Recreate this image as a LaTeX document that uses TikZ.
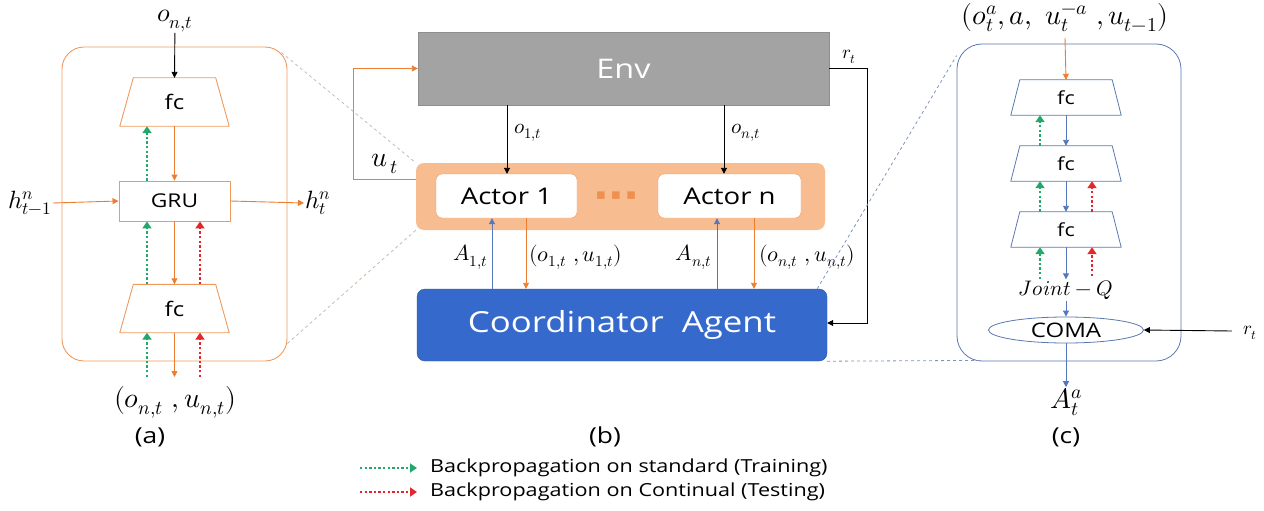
\documentclass[tikz,border=0pt]{standalone}
\usepackage{fontspec}
\usepackage{unicode-math}
\setmathfont{Latin Modern Math}
\newfontfamily\osans[FakeStretch=1.2]{Open Sans}
\newfontfamily\dvs{DejaVu Sans}
\usetikzlibrary{arrows.meta,shapes.geometric,calc}
\definecolor{orA}{HTML}{ED7D31}
\definecolor{orL}{HTML}{EE9A5E}
\definecolor{orD}{HTML}{EE9050}
\definecolor{barF}{HTML}{F7BC8F}
\definecolor{envF}{HTML}{A3A3A3}
\definecolor{envD}{HTML}{8E8E8E}
\definecolor{coordF}{HTML}{3569CC}
\definecolor{blA}{HTML}{5577BB}
\definecolor{blF}{HTML}{5B78B0}
\definecolor{gcol}{HTML}{22A86A}
\definecolor{rcol}{HTML}{E3262D}
\definecolor{dashA}{HTML}{C9BBAE}
\definecolor{dashC}{HTML}{7F93BC}
\newcommand{\fsz}[1]{\fontsize{#1}{#1}\selectfont}
% trapezoid outline around a node: narrow top, wide bottom
\newcommand{\trapz}[3]{\draw[#3] (#1.south west) -- (#1.south east) -- ([xshift=-#2]#1.north east) -- ([xshift=#2]#1.north west) -- cycle;}
\begin{document}
\begin{tikzpicture}[x=1pt,y=-1pt,
  tip/.style={-{Triangle[length=6pt,width=6pt]}},
  oarr/.style={draw=orA, line width=0.9pt, tip},
  barr/.style={draw=blA, line width=0.9pt, tip},
  karr/.style={draw=black, line width=0.9pt, tip},
  gdot/.style={draw=gcol, line width=2.6pt, dash pattern=on 2.4pt off 2.2pt, -{Triangle[length=7pt,width=9pt]}},
  rdot/.style={draw=rcol, line width=2.6pt, dash pattern=on 2.4pt off 2.2pt, -{Triangle[length=7pt,width=9pt]}},
  fcA/.style={minimum width=109pt, minimum height=48pt, inner sep=0pt, font=\osans\fsz{20}},
  fcC/.style={minimum width=110pt, minimum height=35pt, inner sep=0pt, font=\osans\fsz{18}},
  trA/.style={draw=orL, line width=0.9pt, line join=round},
  trC/.style={draw=blF, line width=0.8pt, line join=round},
  ml/.style={inner sep=1pt},
  captxt/.style={font=\osans\fsz{22}, inner sep=0pt}
]
\useasboundingbox (0,0) rectangle (1264,511);

% ---------------- panel (a) ----------------
\node[draw=orL, line width=0.9pt, rounded corners=22pt, minimum width=225pt, minimum height=314pt] (aframe) at (174.5,204) {};
\node[fcA] (a1) at (174.5,102) {fc};
\trapz{a1}{13.5pt}{trA}
\node[draw=orL, line width=0.9pt, minimum width=111pt, minimum height=40pt, font=\osans\fsz{19}] (gru) at (174.5,201) {GRU};
\node[fcA] (a2) at (174.5,308.5) {fc};
\trapz{a2}{13.5pt}{trA}
\node[ml, font=\fsz{26}] (aon) at (175,21) {$o_{n,t}$};
\node[ml, font=\fsz{25}] (hin) at (30,203) {$h^{n}_{t-1}$};
\node[ml, font=\fsz{25}, anchor=west] (hout) at (304,203) {$h^{n}_{t}$};
\node[ml, font=\fsz{28}] (alab) at (175,402) {$(o_{n,t}\ ,u_{n,t})$};
\node[captxt] (capa) at (150,437) {(a)};
\coordinate (xga) at (147,0);
\coordinate (xra) at (200,0);
\coordinate (abot) at (174.5,377);

\draw[karr] (aon) -- (a1.north);
\draw[oarr] (a1.south) -- (gru.north);
\draw[oarr] (gru.south) -- (a2.north);
\draw[oarr] (a2.south) -- (abot);
\draw[oarr] (hin.east) -- (gru.west);
\draw[oarr] (gru.east) -- (hout.west);
\draw[gdot] (gru.north -| xga) -- (a1.south -| xga);
\draw[gdot] (a2.north -| xga) -- (gru.south -| xga);
\draw[rdot] (a2.north -| xra) -- (gru.south -| xra);
\draw[gdot] (abot -| xga) -- (a2.south -| xga);
\draw[rdot] (abot -| xra) -- (a2.south -| xra);

% ---------------- panel (b) ----------------
\node[draw=envD, fill=envF, minimum width=411pt, minimum height=73pt, text=white, font=\osans\fsz{27}] (env) at (623.5,68.5) {Env};
\node[fill=barF, rounded corners=8pt, minimum width=409pt, minimum height=67pt] (bar) at (620.5,196.5) {};
\node[draw=orL, fill=white, rounded corners=6pt, minimum width=141pt, minimum height=44pt, font=\osans\fsz{23}] (act1) at (506.5,196) {Actor 1};
\node[draw=orL, fill=white, rounded corners=6pt, minimum width=143pt, minimum height=44pt, font=\osans\fsz{23}] (actn) at (729.5,196) {Actor n};
\node[text=orD, font=\dvs\fsz{15}, inner sep=0pt] (dots) at (616,196) {▪\,\,▪\,\,▪};
\node[draw=coordF!80!black, fill=coordF, rounded corners=8pt, minimum width=410pt, minimum height=72pt, text=white, font=\osans\fsz{29}] (coord) at (622,325) {Coordinator\ \ Agent};

\coordinate (xo1) at (507,0);
\coordinate (xon) at (724,0);
\coordinate (xA1) at (492,0);
\coordinate (xu1) at (526,0);
\coordinate (xAn) at (717,0);
\coordinate (xun) at (754,0);
\coordinate (utc) at (353,179);
\coordinate (rtc) at (867,323);

\draw[karr] (env.south -| xo1) -- (act1.north -| xo1);
\draw[karr] (env.south -| xon) -- (actn.north -| xon);
\node[ml, font=\fsz{21}, anchor=west] (lo1) at (513,133) {$o_{1,t}$};
\node[ml, font=\fsz{21}, anchor=west] (lon) at (730,133) {$o_{n,t}$};

\draw[oarr] (bar.west |- utc) -- (utc) |- (env.west);
\node[ml, font=\fsz{28}] (lut) at (385,164) {$u_{\,t}$};

\draw[barr] (coord.north -| xA1) -- (act1.south -| xA1);
\draw[oarr] (act1.south -| xu1) -- (coord.north -| xu1);
\draw[barr] (coord.north -| xAn) -- (actn.south -| xAn);
\draw[oarr] (actn.south -| xun) -- (coord.north -| xun);
\node[ml, font=\fsz{22}, anchor=east] (lA1) at (489,257) {$A_{1,t}$};
\node[ml, font=\fsz{22}, anchor=west] (lou1) at (528,257) {$(o_{1,t}\ ,u_{1,t})$};
\node[ml, font=\fsz{22}, anchor=east] (lAn) at (713,257) {$A_{n,t}$};
\node[ml, font=\fsz{22}, anchor=west] (loun) at (758,257) {$(o_{n,t}\ ,u_{n,t})$};

\draw[karr] (env.east) -| (rtc) -- (coord.east |- rtc);
\node[ml, font=\fsz{19}] (lrt) at (849,57) {$r_t$};
\node[captxt] (capb) at (605,437) {(b)};

% dashed zoom lines
\draw[dashA, dashed, line width=0.8pt] (aframe.north east) ++(-6,6) -- (bar.north west);
\draw[dashA, dashed, line width=0.8pt] (aframe.south east) ++(0,-18) -- (bar.south west);

% ---------------- panel (c) ----------------
\node[draw=blF, line width=0.8pt, rounded corners=25pt, minimum width=224pt, minimum height=317pt] (cframe) at (1069,202.5) {};
\node[ml, font=\fsz{28}] (ctop) at (1065,18) {$(o^{a}_{t},a,\ u_t^{-a}\ ,u_{t-1})$};
\node[fcC] (c1) at (1066,97.5) {fc};
\trapz{c1}{9pt}{trC}
\node[fcC] (c2) at (1066,163.5) {fc};
\trapz{c2}{9pt}{trC}
\node[fcC] (c3) at (1066,229.5) {fc};
\trapz{c3}{9pt}{trC}
\node[ml, font=\fsz{21}] (jq) at (1066,290) {$Joint-Q$};
\node[draw=blF, line width=0.8pt, ellipse, minimum width=155pt, minimum height=26pt, inner sep=0pt, font=\osans\fsz{20}] (coma) at (1066,330) {COMA};
\node[ml, font=\fsz{28}] (Aa) at (1066,402) {$A^{a}_{t}$};
\node[ml, font=\fsz{19}] (rt2) at (1250,333) {$r_t$};
\node[captxt] (capc) at (1066,437) {(c)};
\coordinate (xgc) at (1040,0);
\coordinate (xrc) at (1092,0);
\coordinate (jqg) at (1040,279);
\coordinate (jqr) at (1092,276);

\draw[oarr] (ctop.south |- 0,38) -- (c1.north);
\draw[barr] (c1.south) -- (c2.north);
\draw[barr] (c2.south) -- (c3.north);
\draw[barr] (c3.south) -- (jq.north);
\draw[barr] (jq.south) -- (coma.north);
\draw[barr] (coma.south) -- (Aa.north);
\draw[karr] (rt2.west) ++(-10,-2) -- (coma.east);
\draw[gdot] (c2.north -| xgc) -- (c1.south -| xgc);
\draw[gdot] (c3.north -| xgc) -- (c2.south -| xgc);
\draw[rdot] (c3.north -| xrc) -- (c2.south -| xrc);
\draw[gdot] (jqg) -- (c3.south -| xgc);
\draw[rdot] (jqr) -- (c3.south -| xrc);

\draw[dashC, dashed, line width=0.8pt] (coord.north east) ++(-10,0) -- ($(cframe.north west)+(0,12)$);
\draw[dashC, dashed, line width=0.8pt] (coord.south east) -- ($(cframe.south west)+(25,-1)$);

% ---------------- legend ----------------
\coordinate (lg1) at (360,468);
\coordinate (lg2) at (360,492);
\draw[gdot, line width=2.2pt] (lg1) -- ++(57,0);
\draw[rdot, line width=2.2pt] (lg2) -- ++(57,0);
\node[anchor=west, inner sep=0pt, font=\osans\fsz{18}] (leg1) at (430,468) {Backpropagation on standard (Training)};
\node[anchor=west, inner sep=0pt, font=\osans\fsz{18}] (leg2) at (430,492) {Backpropagation on Continual (Testing)};
\end{tikzpicture}
\end{document}
